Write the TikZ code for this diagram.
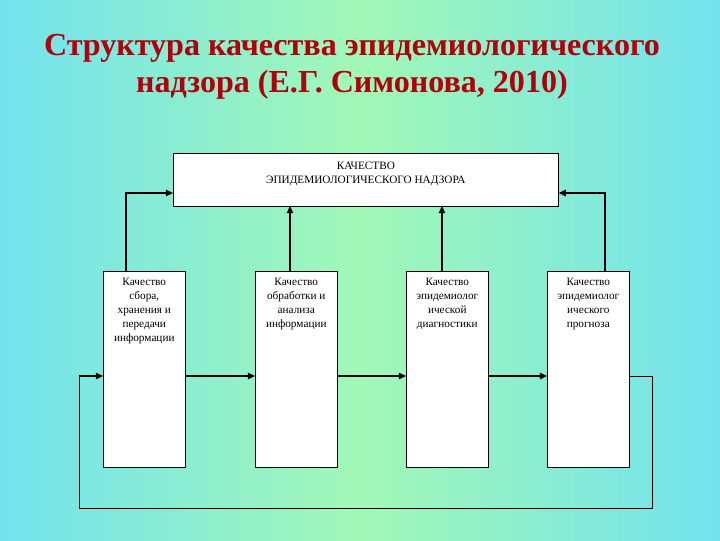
\documentclass[tikz,border=0pt]{standalone}
\usepackage{fontspec}
\setmainfont{Liberation Serif}
\usetikzlibrary{arrows.meta,positioning}
\definecolor{bgCyan}{HTML}{72E2EE}
\definecolor{bgGreen}{HTML}{A2F8B6}
\definecolor{titleRed}{HTML}{B0000C}
\tikzset{
  qualbox/.style={draw, thin, fill=white, minimum width=2.05cm, minimum height=4.9cm,
    anchor=north west, inner sep=0pt},
  topbox/.style={draw, thin, fill=white, minimum width=9.625cm, minimum height=1.325cm,
    anchor=north west, inner sep=0pt},
  boxtext/.style={anchor=north, align=center, font=\fontsize{8}{10}\selectfont, inner sep=2pt},
  arr/.style={-{Triangle[length=1.8mm, width=1.6mm]}, line width=1.1pt},
  loopline/.style={thin}
}
\begin{document}
\begin{tikzpicture}[x=0.025cm, y=-0.025cm]
    \shade[left color=bgCyan, right color=bgCyan, middle color=bgGreen] (0,0) rectangle (720,540);
    \useasboundingbox (0,0) rectangle (720,540);
    % title
    \node[font=\fontsize{22.8}{26.5}\selectfont\bfseries, text=titleRed, align=center] (title) at (352,67)
      {Структура качества эпидемиологического\\надзора (Е.Г. Симонова, 2010)};
    % boxes
    \node[topbox] (quality) at (173,153) {};
    \node[boxtext, below=4pt of quality.north] (qualitytxt) {КАЧЕСТВО\\ЭПИДЕМИОЛОГИЧЕСКОГО НАДЗОРА};
    \node[qualbox] (collect) at (103,271) {};
    \node[qualbox] (process) at (255,271) {};
    \node[qualbox] (diagnose) at (406,271) {};
    \node[qualbox] (forecast) at (547,271) {};
    \node[boxtext, below=3pt of collect.north] {Качество\\сбора,\\хранения и\\передачи\\информации};
    \node[boxtext, below=3pt of process.north] {Качество\\обработки и\\анализа\\информации};
    \node[boxtext, below=3pt of diagnose.north] {Качество\\эпидемиолог\\ической\\диагностики};
    \node[boxtext, below=3pt of forecast.north] {Качество\\эпидемиолог\\ического\\прогноза};
    % links up
    \coordinate (c1) at (126,193);
    \coordinate (c4) at (605,193);
    \draw[arr] (collect.north -| c1) |- (quality.west |- c1);
    \draw[arr] (forecast.north -| c4) |- (quality.east |- c4);
    \draw[arr] (290,271) -- (290,206);
    \draw[arr] (442,271) -- (442,206);
    % chain
    \draw[arr] (collect.east |- 0,376) -- (process.west |- 0,376);
    \draw[arr] (process.east |- 0,376) -- (diagnose.west |- 0,376);
    \draw[arr] (diagnose.east |- 0,376) -- (forecast.west |- 0,376);
    % feedback loop
    \coordinate (l1) at (652,508);
    \coordinate (l2) at (79,508);
    \draw[loopline] (forecast.east |- 0,376) -| (l1) -- (l2) -- (79,376);
    \draw[arr] (79,376) -- (collect.west |- 0,376);
\end{tikzpicture}
\end{document}
